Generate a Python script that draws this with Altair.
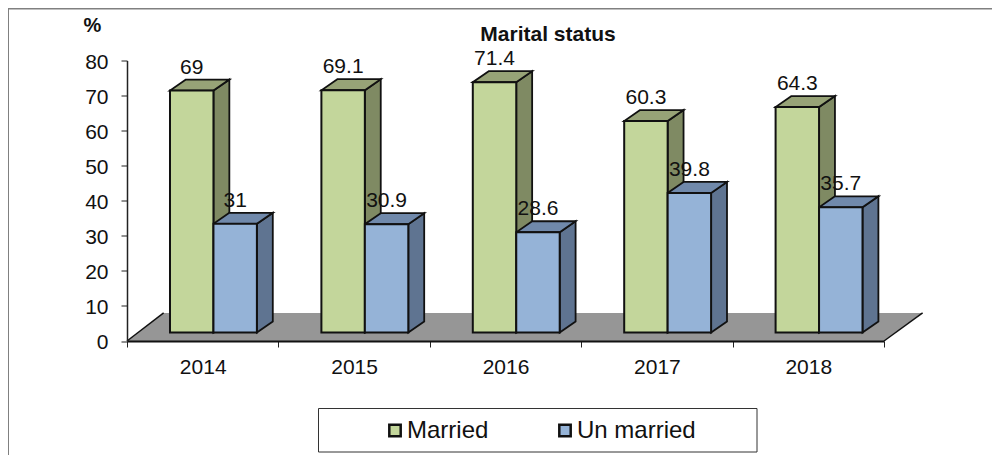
import altair as alt
import pandas as pd

years = ["2014", "2015", "2016", "2017", "2018"]
married = [69, 69.1, 71.4, 60.3, 64.3]
unmarried = [31, 30.9, 28.6, 39.8, 35.7]
series_names = ["Married", "Un married"]
front_colors = ["#C3D69B", "#95B3D7"]
side_colors = ["#7F8A63", "#5F7491"]
top_colors = ["#97A377", "#7089AB"]
FONT = "Liberation Sans"

X_MAX = 5
Y_MAX = 80
BASE = 2.42
DX = 0.105
DY = 3.14
BAR_START = {"Married": 0.284, "Un married": 0.571}
BAR_W = 0.287
PW, PH = 757, 280.5
LEFT, TOP = 119, 52.5
TOTAL_W, TOTAL_H = 984, 447

fronts, sides, tops, labels = [], [], [], []
for sname, vals in zip(series_names, [married, unmarried]):
    for i, v in enumerate(vals):
        x0 = i + BAR_START[sname]
        x1 = x0 + BAR_W
        t = v + BASE
        key = f"{sname}{i}"
        fronts.append(dict(s=sname, x0=x0, x1=x1, y0=BASE, y1=t))
        sides += [dict(s=sname, k=key, x=x1, lo=BASE, hi=t),
                  dict(s=sname, k=key, x=x1 + DX, lo=BASE + DY, hi=t + DY)]
        tops += [dict(s=sname, k=key, y=t, a=x0, b=x1),
                 dict(s=sname, k=key, y=t + DY, a=x0 + DX, b=x1 + DX)]
        labels.append(dict(x=(x0 + x1) / 2, y=t, t=f"{v:g}"))
fronts, sides, tops, labels = map(pd.DataFrame, (fronts, sides, tops, labels))

floor = pd.DataFrame([dict(y=0, a=0, b=5), dict(y=8, a=0.242, b=5.255)])
floor_edges = pd.DataFrame([
    dict(e="l", x=0, y=0), dict(e="l", x=0.242, y=8),
    dict(e="r", x=5, y=0), dict(e="r", x=5.255, y=8)])

x_axis = alt.Axis(
    values=[0, 1, 2, 3, 4, 5], title=None, grid=False, tickSize=6, tickColor="#222222",
    domainColor="#111111", domainWidth=2, labelOffset=75.7, labelFont=FONT, labelFontSize=21,
    labelColor="#111111", labelPadding=9, labelFlush=False, labelOverlap=False, zindex=1,
    labelExpr=f"datum.value < 5 ? {years}[datum.value] : ''")
y_axis = alt.Axis(
    values=list(range(0, 81, 10)), grid=False, tickSize=6, tickColor="#222222",
    domainColor="#222222", domainWidth=1.5, labelFont=FONT, labelFontSize=21,
    labelColor="#111111", labelPadding=13, labelOffset=1.5, labelOverlap=False, zindex=1,
    title="%", titleAngle=0,
    titleFont=FONT, titleFontSize=20, titleFontWeight="bold", titleColor="#111111",
    titleX=-35, titleY=-35, titleAlign="center", titleBaseline="middle")
xs = alt.Scale(domain=[0, X_MAX], nice=False, zero=False)
ys = alt.Scale(domain=[0, Y_MAX], nice=False)


def X(field):
    return alt.X(field, scale=xs, axis=x_axis)


def Y(field):
    return alt.Y(field, scale=ys, axis=y_axis)


blank = pd.DataFrame({"a": [0]})

frame_top = alt.Chart(blank).mark_rule(color="#808080", strokeWidth=2).encode(
    x=alt.value(-LEFT), x2=alt.value(TOTAL_W - LEFT), y=alt.value(-TOP + 0.5))
frame_left = alt.Chart(blank).mark_rule(color="#808080", strokeWidth=2).encode(
    x=alt.value(-LEFT), y=alt.value(-TOP), y2=alt.value(TOTAL_H - TOP))
legend_box = alt.Chart(blank).mark_rect(fill="white", stroke="#333333", strokeWidth=1).encode(
    x=alt.value(191.5), x2=alt.value(630), y=alt.value(348), y2=alt.value(391.5))

floor_area = alt.Chart(floor).mark_area(orient="horizontal", color="#969696").encode(
    y=Y("y:Q"), x=X("a:Q"), x2="b:Q")
floor_line = alt.Chart(floor_edges).mark_line(color="#111111", strokeWidth=1.5).encode(
    x=X("x:Q"), y=Y("y:Q"), detail="e:N")


def side_layer(i):
    return alt.Chart(sides[sides.s == series_names[i]]).mark_area(
        color=side_colors[i], stroke="#111111", strokeWidth=1.8).encode(
        x=X("x:Q"), y=Y("hi:Q"), y2="lo:Q", detail="k:N")


def top_layer(i):
    return alt.Chart(tops[tops.s == series_names[i]]).mark_area(
        orient="horizontal", color=top_colors[i], stroke="#111111", strokeWidth=1.8).encode(
        y=Y("y:Q"), x=X("a:Q"), x2="b:Q", detail="k:N")


front = alt.Chart(fronts).mark_rect(stroke="#111111", strokeWidth=2).encode(
    x=X("x0:Q"), x2="x1:Q",
    y=Y("y0:Q"), y2="y1:Q",
    fill=alt.Fill("s:N", scale=alt.Scale(domain=series_names, range=front_colors),
                  legend=alt.Legend(
                      title=None, orient="none", legendX=256, legendY=355, direction="horizontal",
                      columns=2, columnPadding=64, symbolType="square", symbolSize=130,
                      symbolStrokeColor="#111111", symbolStrokeWidth=2.5, labelFont=FONT,
                      labelFontSize=24, labelColor="#111111", labelOffset=0, padding=0,
                      clipHeight=30)))

text = alt.Chart(labels).mark_text(
    font=FONT, fontSize=21, color="#111111", dy=-23, baseline="middle").encode(
    x=X("x:Q"), y=Y("y:Q"), text="t:N")

chart = alt.layer(
    frame_top, frame_left, legend_box, floor_area, floor_line,
    side_layer(0), top_layer(0), side_layer(1), top_layer(1), front, text
).properties(
    width=PW, height=PH,
    padding={"left": LEFT, "top": TOP, "right": TOTAL_W - LEFT - PW, "bottom": TOTAL_H - TOP - PH},
    autosize=alt.AutoSizeParams(type="none"),
    title=alt.TitleParams("Marital status", font=FONT, fontSize=21, fontWeight="bold",
                          color="#111111", anchor="middle", frame="group", dx=42.5, dy=52, offset=14),
).configure_view(stroke=None)

chart.save("out.html", embed_options={"renderer": "svg", "actions": False})
